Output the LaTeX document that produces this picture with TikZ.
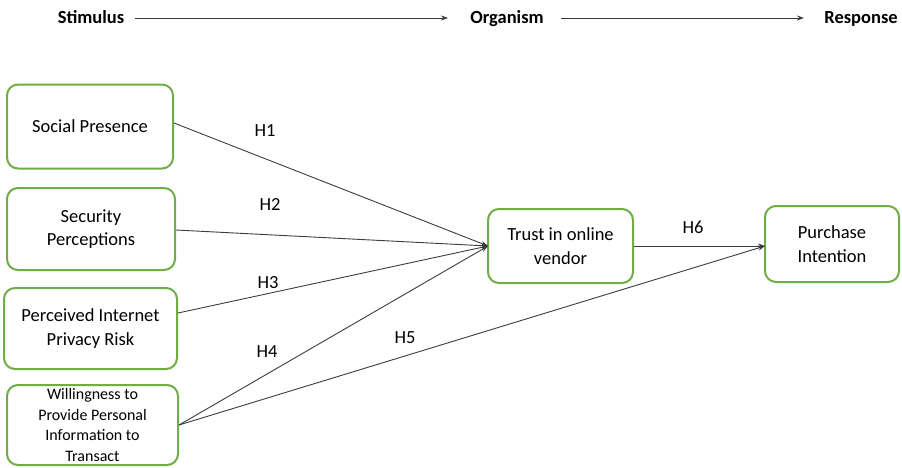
\documentclass[tikz,border=0pt]{standalone}
\usepackage{fontspec}
\setmainfont{Carlito}
\usetikzlibrary{arrows.meta}
\begin{document}
\begin{tikzpicture}[x=1pt,y=-1pt,
  box/.style={draw=boxgreen,line width=2pt,rounded corners=11pt,fill=white,align=center,font=\fontsize{18.5}{23.5}\selectfont,inner sep=0pt},
  smallbox/.style={box,font=\fontsize{16}{20.5}\selectfont},
  conn/.style={draw=linegray,line width=0.9pt,-{Stealth[length=7pt,width=5pt]}},
  hlab/.style={font=\fontsize{18.5}{22}\selectfont},
  head/.style={font=\bfseries\fontsize{18.5}{22}\selectfont,anchor=base}]
\definecolor{boxgreen}{RGB}{112,173,71}
\definecolor{linegray}{RGB}{60,60,60}
\useasboundingbox (0,0) rectangle (902,467);
% header
\node[head] (stim) at (91,23) {Stimulus};
\node[head] (org) at (507,23) {Organism};
\node[head] (resp) at (861,23) {Response};
\coordinate (a1s) at (135,18); \coordinate (a1e) at (448,18);
\coordinate (a2s) at (561,18); \coordinate (a2e) at (804,18);
\draw[conn] (a1s) -- (a1e);
\draw[conn] (a2s) -- (a2e);
% boxes
\node[box,minimum width=166pt,minimum height=84pt] (sp) at (90,126.5) {Social Presence};
\node[box,minimum width=168pt,minimum height=82pt] (sec) at (91,229) {Security\\Perceptions};
\node[box,minimum width=173pt,minimum height=81pt] (pipr) at (90.5,328.5) {Perceived Internet\\Privacy Risk};
\node[smallbox,minimum width=171pt,minimum height=80pt] (will) at (92.5,425) {Willingness to\\Provide Personal\\Information to\\Transact};
\node[box,minimum width=145pt,minimum height=74pt] (trust) at (560.5,246) {Trust in online\\vendor};
\node[box,minimum width=134pt,minimum height=76pt] (pi) at (832,244) {Purchase\\Intention};
% connectors
\coordinate (tin) at (488,246);
\coordinate (pin) at (765,246);
\draw[conn] (sp.east |- 0,123) -- (tin);
\draw[conn] (sec.east |- 0,230) -- (tin);
\draw[conn] (pipr.east |- 0,313) -- (tin);
\draw[conn] (will.east |- 0,425) -- (tin);
\draw[conn] (will.east |- 0,425) -- (pin);
\draw[conn] (trust.east |- 0,246) -- (pin);
% labels
\node[hlab] (h1) at (265,131) {H1};
\node[hlab] (h2) at (270,204) {H2};
\node[hlab] (h3) at (268,283) {H3};
\node[hlab] (h4) at (267,352) {H4};
\node[hlab] (h5) at (405,338) {H5};
\node[hlab] (h6) at (693,227) {H6};
\end{tikzpicture}
\end{document}
